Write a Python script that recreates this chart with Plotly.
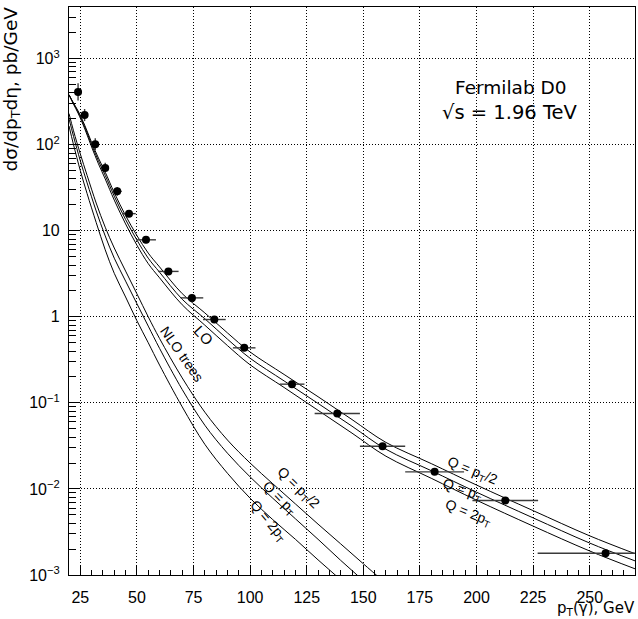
import plotly.graph_objects as go

# ---------------- data ----------------
pt_data = [24.0, 26.9, 31.6, 36.0, 41.3, 46.5, 54.0, 63.9, 74.3, 84.2, 97.4,
           118.5, 138.5, 158.5, 181.5, 212.7, 257.0]
xsec_data = [410, 221, 101, 53.6, 28.7, 15.8, 7.85, 3.37, 1.66, 0.93, 0.436,
             0.165, 0.0753, 0.0313, 0.0158, 0.00733, 0.00179]
pt_halfwidth = [0.5, 1.0, 1.5, 1.5, 2.0, 3.0, 4.4, 4.5, 5.0, 5.0, 5.0,
                5.5, 10.0, 10.0, 13.0, 14.5, 30.0]
err_dex = [0.10, 0.07, 0.07, 0.06, 0.05, 0.04, 0.04, 0.035, 0.035, 0.035, 0.035,
           0.035, 0.035, 0.035, 0.035, 0.035, 0.035]

lo_x = [20, 22, 24, 27, 30, 33, 36, 40, 45, 50, 55, 60, 70, 80, 90, 100, 115,
        130, 145, 160, 180, 200, 225, 250, 270]
lo_half = [380, 305, 247, 167, 106, 70, 48, 27.7, 15, 8.8, 5.5, 3.8, 1.86, 1.11,
           0.65, 0.39, 0.214, 0.118, 0.064, 0.0347, 0.0197, 0.0111, 0.0056,
           0.00285, 0.00177]
lo_one = [380, 300, 240, 160, 100, 65, 44, 25.2, 13.5, 7.8, 4.8, 3.3, 1.6, 0.95,
          0.55, 0.33, 0.180, 0.0986, 0.0536, 0.0289, 0.0163, 0.00917, 0.00461,
          0.00235, 0.00146]
lo_two = [380, 295, 233, 152, 94, 60, 40, 22.7, 12, 6.8, 4.15, 2.84, 1.38, 0.8,
          0.463, 0.277, 0.151, 0.082, 0.0445, 0.024, 0.0133, 0.0074, 0.0037,
          0.0019, 0.00118]

nlo_x = [20, 22, 25, 28, 32, 36, 40, 45, 50, 55, 60, 70, 80, 90, 100, 110, 120,
         130, 140, 150, 160]
nlo_half = [230, 145, 78, 44, 21, 11, 6.3, 3.4, 1.85, 1.0, 0.56, 0.195, 0.078,
            0.037, 0.020, 0.0115, 0.0067, 0.0039, 0.0023, 0.00135, 0.0008]
nlo_one = [200, 125, 65, 36, 17, 8.7, 4.8, 2.6, 1.42, 0.78, 0.43, 0.143, 0.055,
           0.026, 0.0138, 0.0078, 0.0045, 0.0026, 0.00148, 0.00086, 0.0005]
nlo_two = [165, 100, 50, 27, 12.5, 6.0, 3.2, 1.7, 0.9, 0.5, 0.275, 0.09, 0.033,
           0.0152, 0.0078, 0.0044, 0.0026, 0.0015, 0.00088, 0.00052, 0.0003]

x_ticks = [25, 50, 75, 100, 125, 150, 175, 200, 225, 250]
y_ticks = [1e-3, 1e-2, 1e-1, 1, 10, 1e2, 1e3]
y_ticktext = ["10<sup>−3</sup>", "10<sup>−2</sup>", "10<sup>−1</sup>", "1", "10",
              "10<sup>2</sup>", "10<sup>3</sup>"]

# minor tick positions (axis decoration only)
x_minor = [v for v in range(20, 271, 5) if v % 25 != 0]
y_minor = [k * 10.0 ** e for e in range(-3, 4) for k in range(2, 10) if k * 10.0 ** e < 4000]

# ---------------- figure ----------------
FONT = "Liberation Sans, Arial, sans-serif"
FONT2 = "DejaVu Sans, sans-serif"
fig = go.Figure()

for ys in (lo_half, lo_one, lo_two):
    fig.add_trace(go.Scatter(x=lo_x, y=ys, mode="lines",
                             line=dict(color="black", width=1, shape="spline"),
                             showlegend=False, hoverinfo="skip"))
for ys in (nlo_half, nlo_one, nlo_two):
    fig.add_trace(go.Scatter(x=nlo_x, y=ys, mode="lines",
                             line=dict(color="black", width=1, shape="spline"),
                             showlegend=False, hoverinfo="skip"))

err_plus = [y * (10 ** d - 1) for y, d in zip(xsec_data, err_dex)]
err_minus = [y * (1 - 10 ** (-d)) for y, d in zip(xsec_data, err_dex)]
fig.add_trace(go.Scatter(
    x=pt_data, y=xsec_data, mode="markers",
    marker=dict(color="black", size=8, symbol="circle"),
    error_x=dict(type="data", array=pt_halfwidth, color="#3a3a3a", thickness=1.4, width=0),
    error_y=dict(type="data", symmetric=False, array=err_plus, arrayminus=err_minus,
                 color="#3a3a3a", thickness=1.4, width=0),
    showlegend=False, hoverinfo="skip"))

ann = []
def add_text(px, py, text, angle=0, size=14, family=FONT):
    ann.append(dict(xref="paper", yref="paper", x=(px - 69) / 566, y=(575 - py) / 568,
                    text=text, showarrow=False, textangle=angle,
                    font=dict(size=size, color="black", family=family),
                    xanchor="center", yanchor="middle"))

add_text(511, 87, "Fermilab D0", 0, 18.5, FONT2)
add_text(510, 112, "√s = 1.96 TeV", 0, 19.5, FONT2)
add_text(204, 335, "LO", 48, 15)
add_text(182, 354, "NLO trees", 55, 14)
add_text(472, 471, "Q = p<sub>T</sub>/2", 22, 14)
add_text(462, 490, "Q = p<sub>T</sub>", 20, 14)
add_text(468, 513, "Q = 2p<sub>T</sub>", 22, 14)
add_text(298, 488, "Q = p<sub>T</sub>/2", 44, 14)
add_text(279, 498, "Q = p<sub>T</sub>", 45, 14)
add_text(268, 521, "Q = 2p<sub>T</sub>", 50, 14)

ann.append(dict(xref="paper", yref="paper", x=(12 - 69) / 566, y=(575 - 5) / 568,
                text="dσ/dp<sub>T</sub>dη, pb/GeV", showarrow=False, textangle=-90,
                font=dict(size=18.5, color="black", family=FONT2),
                xanchor="center", yanchor="top"))
ann.append(dict(xref="paper", yref="paper", x=(637 - 69) / 566, y=(575 - 608) / 568,
                text="p<sub>T</sub>(γ), GeV", showarrow=False,
                font=dict(size=15, color="black", family=FONT2),
                xanchor="right", yanchor="middle"))

fig.update_layout(
    width=638, height=619,
    margin=dict(l=69, r=3, t=7, b=44, autoexpand=False),
    paper_bgcolor="white", plot_bgcolor="white",
    annotations=ann,
    font=dict(family=FONT, color="black"),
    xaxis=dict(
        range=[20, 270], tickmode="array", tickvals=x_ticks, automargin=False,
        ticks="inside", ticklen=9, tickwidth=1.2, tickcolor="black",
        showline=True, linecolor="black", linewidth=1.2, mirror=True,
        showgrid=True, gridcolor="black", griddash="1px,2px", gridwidth=1,
        zeroline=False, tickfont=dict(size=16, family=FONT), ticklabelstandoff=8,
        minor=dict(ticks="inside", ticklen=5, tickmode="array", tickvals=x_minor,
                   tickcolor="black", tickwidth=1.2, showgrid=False),
    ),
    yaxis=dict(
        type="log", range=[-3, 3.6], tickmode="array", tickvals=y_ticks,
        ticktext=y_ticktext, automargin=False,
        ticks="inside", ticklen=11, tickwidth=1.2, tickcolor="black",
        showline=True, linecolor="black", linewidth=1.2, mirror=True,
        showgrid=True, gridcolor="black", griddash="1px,2px", gridwidth=1,
        zeroline=False, tickfont=dict(size=16, family=FONT), ticklabelstandoff=5,
        minor=dict(ticks="inside", ticklen=7, tickmode="array", tickvals=y_minor,
                   tickcolor="black", tickwidth=1.2, showgrid=False),
    ),
)

fig.write_html("out.html", config={"displayModeBar": False},
               post_script="document.body.style.margin='0px';document.body.style.padding='0px';")
